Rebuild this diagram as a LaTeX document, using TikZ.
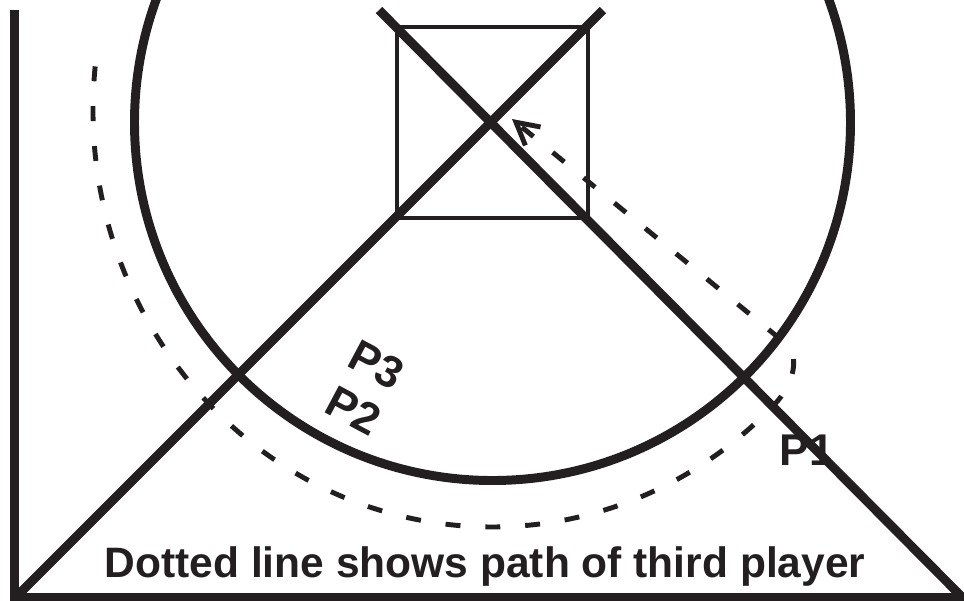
\documentclass[tikz,border=0pt]{standalone}
\usepackage{fontspec}
\setmainfont{Liberation Sans}
\usetikzlibrary{arrows.meta}
\definecolor{ink}{RGB}{35,31,32}
\begin{document}
\begin{tikzpicture}[x=0.02cm,y=-0.02cm,
  heavy/.style={draw=ink, line width=5.1pt},
  court/.style={draw=ink, line width=4.5pt},
  thinbox/.style={draw=ink, line width=2.8pt},
  pathline/.style={draw=ink, line width=2.8pt, dash pattern=on 8.5pt off 14.2pt},
  lbl/.style={text=ink, font=\bfseries\fontsize{25.3}{30}\selectfont, inner sep=0pt},
  caption/.style={text=ink, font=\bfseries\fontsize{24.2}{29}\selectfont, inner sep=0pt}]
\useasboundingbox (0,0) rectangle (964,600);
% labels
\node[caption, anchor=base] (cap) at (485,577) {Dotted line shows path of third player};
\node[lbl, anchor=base west] (p1) at (779,465) {P1};
\node[lbl, anchor=base west, rotate=-28] (p3) at (345,365) {P3};
\node[lbl, anchor=base west, rotate=-28] (p2) at (322,411) {P2};
% court frame
\coordinate (tl) at (14.5,10);
\coordinate (bl) at (14.5,600);
\coordinate (bll) at (10,597);
\coordinate (brr) at (964,597);
\draw[heavy] (tl) -- (bl);
\draw[court] (bll) -- (brr);
% square and circle
\coordinate (o) at (492.5,122.5);
\coordinate (sq1) at (397,27);
\coordinate (sq2) at (588,218);
\draw[thinbox] (sq1) rectangle (sq2);
\draw[heavy] (o) circle[radius=358];
% diagonals
\coordinate (d1a) at (16,597);
\coordinate (d1b) at (603,10);
\coordinate (d2a) at (379,10);
\coordinate (d2b) at (962,597);
\draw[heavy] (d1a) -- (d1b);
\draw[heavy] (d2a) -- (d2b);
% path of third player
\coordinate (ps) at (95.2,66.4);
\coordinate (turn) at (785,343);
\coordinate (tip) at (512,119);
\draw[pathline, -{Straight Barb[length=12.5pt,width=13.6pt]}]
  (ps) arc[start angle=186, end angle=45, x radius=399, y radius=417]
  .. controls (795,383) and (800,355) .. (turn) -- (tip);
\end{tikzpicture}
\end{document}
